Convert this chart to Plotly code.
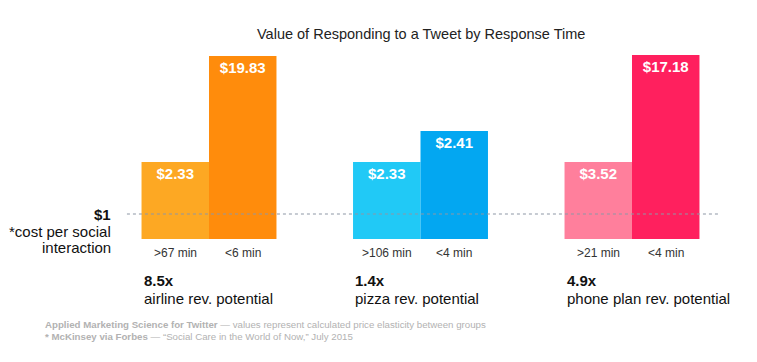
import plotly.graph_objects as go

# ---- data ----
groups = ["airline", "pizza", "phone plan"]
multipliers = ["8.5x", "1.4x", "4.9x"]
slow_labels = [">67 min", ">106 min", ">21 min"]
fast_labels = ["<6 min", "<4 min", "<4 min"]
slow_values = [2.33, 2.33, 3.52]
fast_values = [19.83, 2.41, 17.18]
# visual bar heights as drawn in the infographic (relative units)
slow_heights = [77, 77, 77]
fast_heights = [183, 108, 184]
threshold_height = 25  # the "$1" reference line
slow_colors = ["#FDA823", "#21C9F6", "#FF7F9C"]
fast_colors = ["#FF8C0C", "#03A7F1", "#FF205E"]

FONT = "Liberation Sans, Arial, Helvetica, sans-serif"
W, H = 757, 362
bargap = 0.362
bw = (1 - bargap) / 2  # width of one bar in x units
x = list(range(len(groups)))

fig = go.Figure()
fig.add_trace(go.Bar(
    x=x, y=slow_heights, marker=dict(color=slow_colors, line=dict(width=0)),
    text=[f"<b>${v:.2f}</b>" for v in slow_values],
    textposition="inside", insidetextanchor="end",
    textfont=dict(family=FONT, size=15, color="white"),
    hoverinfo="skip", showlegend=False,
))
fig.add_trace(go.Bar(
    x=x, y=fast_heights, marker=dict(color=fast_colors, line=dict(width=0)),
    text=[f"<b>${v:.2f}</b>" for v in fast_values],
    textposition="inside", insidetextanchor="end",
    textfont=dict(family=FONT, size=15, color="white"),
    hoverinfo="skip", showlegend=False,
))

# dotted $1 line
fig.add_shape(type="line", xref="x", yref="y",
              x0=-0.388, x1=2.407, y0=threshold_height, y1=threshold_height,
              line=dict(color="#8E98A6", width=1.2, dash="dot"), layer="above")

ann = []
for i, g in enumerate(groups):
    ann.append(dict(x=i - bw / 2, y=-14, xref="x", yref="y", text=slow_labels[i],
                    font=dict(family=FONT, size=12, color="#333333")))
    ann.append(dict(x=i + bw / 2, y=-14, xref="x", yref="y", text=fast_labels[i],
                    font=dict(family=FONT, size=12, color="#333333")))
    ann.append(dict(x=i - bw, y=-41, xref="x", yref="y", xanchor="left",
                    text=f"<b>{multipliers[i]}</b>",
                    font=dict(family=FONT, size=15, color="#111111")))
    ann.append(dict(x=i - bw, y=-59, xref="x", yref="y", xanchor="left",
                    text=f"{g} rev. potential",
                    font=dict(family=FONT, size=15, color="#111111")))

ann.append(dict(x=113 / W, y=threshold_height, xref="paper", yref="y", xanchor="right",
                text="<b>$1</b>", font=dict(family=FONT, size=15, color="#111111")))
ann.append(dict(x=113 / W, y=threshold_height - 17, xref="paper", yref="y", xanchor="right",
                text="*cost per social", font=dict(family=FONT, size=15, color="#111111")))
ann.append(dict(x=113 / W, y=threshold_height - 33, xref="paper", yref="y", xanchor="right",
                text="interaction", font=dict(family=FONT, size=15, color="#111111")))

ann.append(dict(x=43 / W, y=1 - 324 / H, xref="paper", yref="paper", xanchor="left",
                text="<b>Applied Marketing Science for Twitter</b> — values represent calculated price elasticity between groups",
                font=dict(family=FONT, size=9.7, color="#B2B2B2")))
ann.append(dict(x=43 / W, y=1 - 336 / H, xref="paper", yref="paper", xanchor="left",
                text="<b>* McKinsey via Forbes</b> — “Social Care in the World of Now,” July 2015",
                font=dict(family=FONT, size=9.7, color="#B2B2B2")))
ann.append(dict(x=421 / W, y=1 - 34 / H, xref="paper", yref="paper",
                text="Value of Responding to a Tweet by Response Time",
                font=dict(family=FONT, size=14.5, color="#222222")))
for a in ann:
    a["showarrow"] = False
    a["yanchor"] = "middle"

# x mapping: group 0 center at px 209, 211.5 px per group
x0 = -209 / 211.5
x1 = (W - 209) / 211.5
fig.update_layout(
    width=W, height=H, margin=dict(l=0, r=0, t=0, b=0),
    paper_bgcolor="white", plot_bgcolor="white",
    barmode="group", bargap=bargap, bargroupgap=0,
    xaxis=dict(range=[x0, x1], visible=False, fixedrange=True),
    yaxis=dict(range=[-(H - 239), 239], visible=False, fixedrange=True),
    annotations=ann, uniformtext=dict(minsize=8, mode="show"),
)
fig.write_html("out.html", config={"displayModeBar": False},
               post_script="document.body.style.margin='0';document.body.style.overflow='hidden';")
